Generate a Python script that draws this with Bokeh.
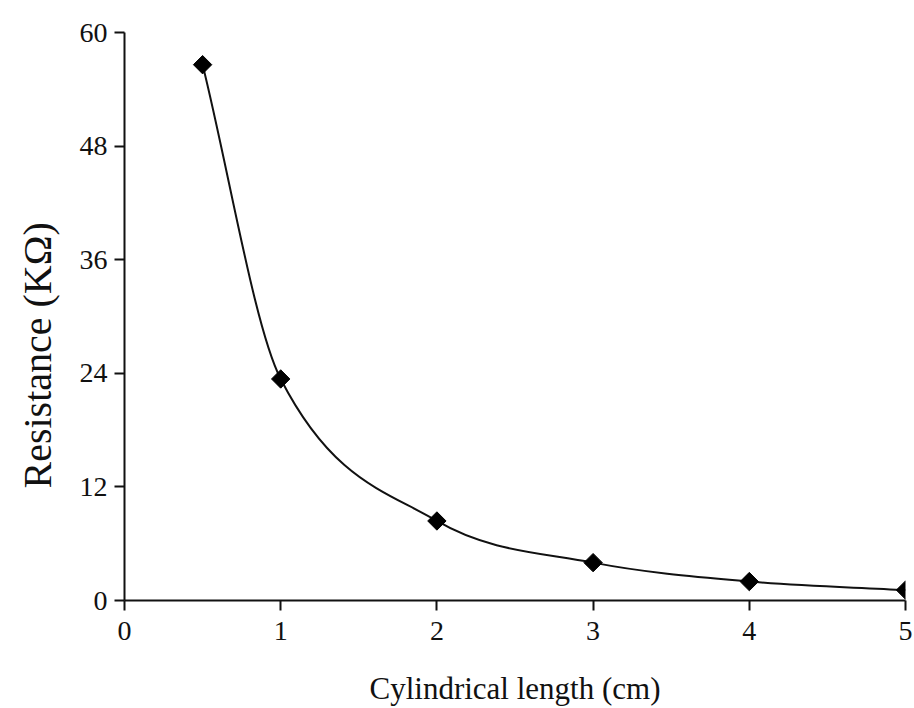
import numpy as np
from bokeh.plotting import figure
from bokeh.models import Range1d, FixedTicker, ColumnDataSource, Title
from bokeh.embed import file_html
from bokeh.resources import INLINE

# Data
length_cm = [0.5, 1, 2, 3, 4, 5]
resistance_kohm = [56.6, 23.4, 8.4, 4.0, 2.0, 1.1]
x_ticks = [0, 1, 2, 3, 4, 5]
y_ticks = [0, 12, 24, 36, 48, 60]
x_title = "Cylindrical length (cm)"
y_title = "Resistance (KΩ)"

FONT = "Liberation Serif"
INK = "#111111"

p = figure(width=914, height=708, output_backend="svg", toolbar_location=None,
           x_range=Range1d(0, 5), y_range=Range1d(0, 60),
           min_border_left=124, min_border_right=9, min_border_top=32,
           min_border_bottom=106)
p.outline_line_color = None
p.background_fill_color = "white"
p.border_fill_color = "white"
p.xgrid.visible = False
p.ygrid.visible = False

# smooth curve (cubic Hermite segments through the data points, drawn as Beziers)
xs = np.array(length_cm, dtype=float)
ys = np.array(resistance_kohm, dtype=float)
n = len(xs)
m = np.zeros(n)
for i in range(n):
    a = max(i - 1, 0)
    b = min(i + 1, n - 1)
    m[i] = (ys[b] - ys[a]) / (xs[b] - xs[a])
x0, y0, x1, y1, cx0, cy0, cx1, cy1 = ([] for _ in range(8))
for i in range(n - 1):
    h = xs[i + 1] - xs[i]
    x0.append(xs[i]); y0.append(ys[i])
    x1.append(xs[i + 1]); y1.append(ys[i + 1])
    cx0.append(xs[i] + h / 3.0); cy0.append(ys[i] + m[i] * h / 3.0)
    cx1.append(xs[i + 1] - h / 3.0); cy1.append(ys[i + 1] - m[i + 1] * h / 3.0)
bsrc = ColumnDataSource(dict(x0=x0, y0=y0, x1=x1, y1=y1, cx0=cx0, cy0=cy0, cx1=cx1, cy1=cy1))
p.bezier(x0="x0", y0="y0", x1="x1", y1="y1", cx0="cx0", cy0="cy0", cx1="cx1", cy1="cy1",
         source=bsrc, line_color=INK, line_width=2)

src = ColumnDataSource(dict(x=length_cm, y=resistance_kohm))
p.scatter("x", "y", source=src, marker="square", angle=np.pi / 4, size=13,
          fill_color="black", line_color="black")

for ax in (p.xaxis[0], p.yaxis[0]):
    ax.axis_line_color = INK
    ax.axis_line_width = 2
    ax.major_tick_line_color = INK
    ax.major_tick_line_width = 2
    ax.major_tick_in = 0
    ax.major_tick_out = 10
    ax.minor_tick_line_color = None
    ax.major_label_text_font = FONT
    ax.major_label_text_font_size = "28px"
    ax.major_label_text_color = INK
    ax.axis_label_text_font = FONT
    ax.axis_label_text_font_style = "normal"
    ax.axis_label_text_color = INK

p.xaxis[0].ticker = FixedTicker(ticks=x_ticks)
p.yaxis[0].ticker = FixedTicker(ticks=y_ticks)
p.xaxis[0].axis_label = x_title
p.xaxis[0].axis_label_text_font_size = "31px"
p.xaxis[0].major_label_standoff = 11
p.yaxis[0].major_label_standoff = 7
p.xaxis[0].axis_label_standoff = 28

# y title sits lower than the frame centre in the reference
ytitle = Title(text=y_title, align="left", offset=112, standoff=29,
               vertical_align="top",
               text_font=FONT, text_font_size="40px", text_font_style="normal",
               text_color=INK)
p.add_layout(ytitle, "left")

open("out.html", "w").write(file_html(p, INLINE))
